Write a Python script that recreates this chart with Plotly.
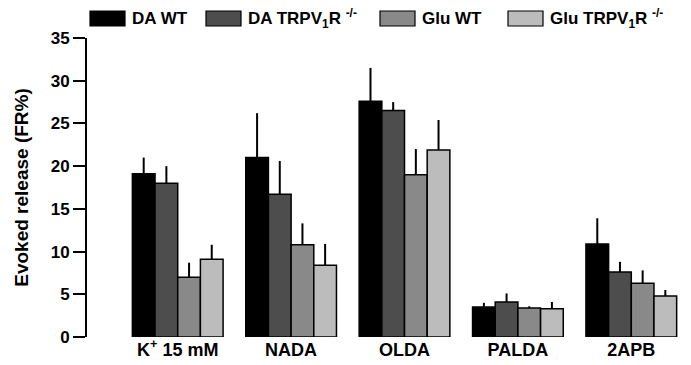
import plotly.graph_objects as go

categories = ["K<sup>+</sup> 15 mM", "NADA", "OLDA", "PALDA", "2APB"]
series_names = ["DA WT", "DA TRPV<sub>1</sub>R&nbsp;<sup>-/-</sup>", "Glu WT", "Glu TRPV<sub>1</sub>R&nbsp;<sup>-/-</sup>"]
colors = ["#000000", "#4d4d4d", "#898989", "#bcbcbc"]

da_wt = [19.1, 21.0, 27.6, 3.5, 10.9]
da_ko = [18.0, 16.7, 26.5, 4.1, 7.6]
glu_wt = [7.0, 10.8, 19.0, 3.4, 6.3]
glu_ko = [9.1, 8.4, 21.9, 3.3, 4.8]

da_wt_err = [1.9, 5.2, 3.9, 0.5, 3.0]
da_ko_err = [2.0, 3.9, 1.0, 1.0, 1.2]
glu_wt_err = [1.7, 2.5, 3.0, 0.2, 1.5]
glu_ko_err = [1.7, 2.5, 3.5, 0.8, 0.7]

y_ticks = [0, 5, 10, 15, 20, 25, 30, 35]

values = [da_wt, da_ko, glu_wt, glu_ko]
errors = [da_wt_err, da_ko_err, glu_wt_err, glu_ko_err]

font_family = "Liberation Sans, Arial, sans-serif"

fig = go.Figure()
for name, vals, errs, col in zip(series_names, values, errors, colors):
    fig.add_trace(go.Bar(
        x=list(range(len(categories))), y=vals, name=name,
        marker=dict(color=col, line=dict(color="#000000", width=1.5)),
        error_y=dict(type="data", array=errs, arrayminus=[0] * len(errs), symmetric=False,
                     color="#000000", thickness=2, width=0),
        showlegend=False,
    ))

# custom legend (wide swatches), positions in paper units of the plot area
L, T, PW, PH = 87, 38, 601, 299
legend_x = [90, 206, 380, 508]
for lx, name, col in zip(legend_x, series_names, colors):
    fig.add_shape(type="rect", xref="paper", yref="paper",
                  x0=(lx - L) / PW, x1=(lx + 35 - L) / PW,
                  y0=(T + PH - 26) / PH, y1=(T + PH - 11) / PH,
                  fillcolor=col, line=dict(color="#000000", width=1.2))
    fig.add_annotation(xref="paper", yref="paper", x=(lx + 40 - L) / PW, y=(T + PH - 18.5) / PH,
                       text=name, showarrow=False, xanchor="left", yanchor="middle",
                       font=dict(family=font_family, size=17, color="#000000", weight="bold"))

fig.update_layout(
    width=691, height=365,
    margin=dict(l=L, r=3, t=T, b=365 - T - PH),
    paper_bgcolor="white", plot_bgcolor="white",
    barmode="group", bargap=0.2, bargroupgap=0,
    font=dict(family=font_family, size=16, color="#000000", weight="bold"),
    xaxis=dict(
        tickmode="array", tickvals=list(range(len(categories))),
        ticktext=categories,
        range=[-0.8, 4.5], showline=False, showgrid=False, zeroline=False,
        ticks="", ticklen=0,
        tickfont=dict(size=18, weight="bold"),
    ),
    yaxis=dict(
        range=[0, 35], tickvals=y_ticks,
        ticktext=[str(v) for v in y_ticks],
        showline=True, linecolor="#000000", linewidth=2,
        ticks="outside", ticklen=12, tickwidth=2, tickcolor="#000000",
        showgrid=False, zeroline=False,
        tickfont=dict(size=17, weight="bold"),
        title=dict(text="Evoked release (FR%)", font=dict(size=19, weight="bold"), standoff=17),
    ),
)

fig.write_html("out.html", post_script="document.body.style.margin='0';",
               config={"displayModeBar": False})
